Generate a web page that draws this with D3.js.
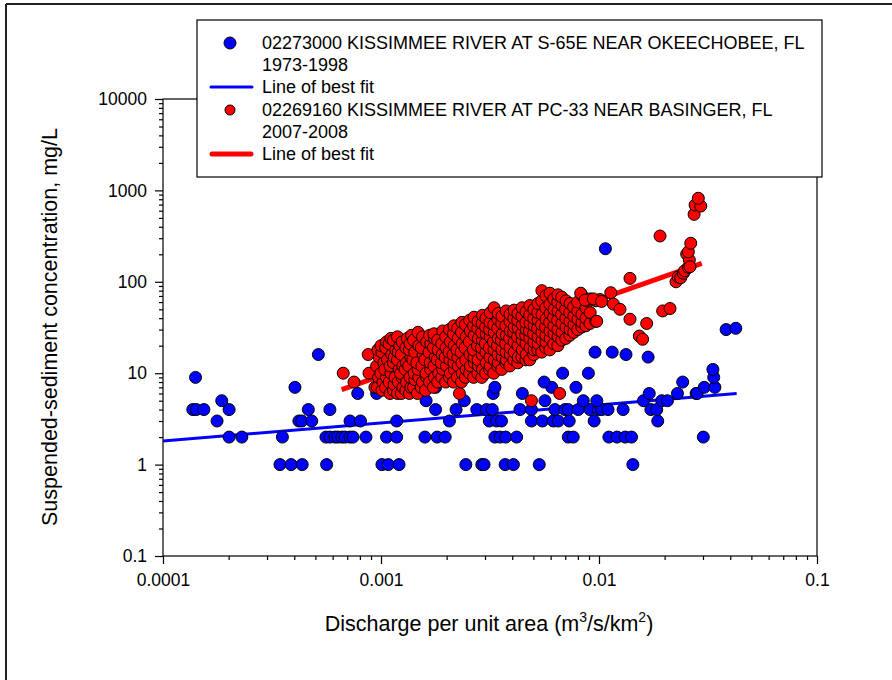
<!DOCTYPE html>
<html><head><meta charset="utf-8">
<script src="https://cdn.jsdelivr.net/npm/d3@7"></script>
<style>body{margin:0;background:#fff;} svg{display:block;font-family:"Liberation Sans",Arial,Helvetica,sans-serif;}</style>
</head><body><svg id="chart" width="892" height="680"></svg>
<script>
// ---------------- DATA ----------------
const xTickValues = [0.0001, 0.001, 0.01, 0.1];
const xTickLabels = ["0.0001", "0.001", "0.01", "0.1"];
const yTickValues = [0.1, 1, 10, 100, 1000, 10000];
const yTickLabels = ["0.1", "1", "10", "100", "1000", "10000"];

const xTitle = ["Discharge per unit area (m", "3", "/s/km", "2", ")"];
const yTitle = "Suspended-sediment concentration, mg/L";

const legendLabels = [
  "02273000 KISSIMMEE RIVER AT S-65E NEAR OKEECHOBEE, FL",
  "1973-1998",
  "Line of best fit",
  "02269160 KISSIMMEE RIVER AT PC-33 NEAR BASINGER, FL",
  "2007-2008",
  "Line of best fit"
];

// line of best fit end points [discharge, concentration]
const blueFit = [[0.0001, 1.81], [0.0428, 6.0]];
const redFit = [[0.00066, 6.6], [0.0296, 159]];

// 02273000 S-65E, 1973-1998  [discharge, concentration]
const blueData = [
  [0.000344,1],[0.000387,1],[0.000435,1],[0.000563,1],[0.00101,1],[0.00108,1],[0.00121,1],[0.00245,1],[0.00290,1],[0.00297,1],[0.00371,1],[0.00405,1],[0.00532,1],[0.0143,1],
  [0.000201,2],[0.000230,2],[0.000353,2],[0.000559,2],[0.000583,2],[0.000615,2],[0.000635,2],[0.000662,2],[0.000684,2],[0.000721,2],[0.000744,2],[0.000853,2],[0.00106,2],[0.00118,2],[0.00159,2],[0.00181,2],[0.00197,2],[0.00333,2],[0.00352,2],[0.00373,2],[0.00419,2],[0.00723,2],[0.00762,2],[0.0111,2],[0.0121,2],[0.0132,2],[0.0141,2],[0.0301,2],
  [0.000177,3],[0.000420,3],[0.000433,3],[0.000481,3],[0.000721,3],[0.000805,3],[0.00118,3],[0.00206,3],[0.00314,3],[0.00339,3],[0.00357,3],[0.00490,3],[0.00550,3],[0.00617,3],[0.00650,3],[0.00730,3],[0.00950,3],[0.0186,3],
  [0.000137,4],[0.000142,4],[0.000154,4],[0.000201,4],[0.000464,4],[0.000583,4],[0.00178,4],[0.00221,4],[0.00275,4],[0.00305,4],[0.00324,4],[0.00434,4],[0.00490,4],[0.00628,4],[0.00698,4],[0.00723,4],[0.00803,4],[0.00910,4],[0.00993,4],[0.0103,4],[0.0110,4],[0.0129,4],[0.0173,4],[0.0184,4],
  [0.000186,5],[0.00161,5],[0.00241,5],[0.00565,5],[0.00847,5],[0.00977,5],[0.0160,5],[0.0194,5],[0.0206,5],
  [0.000782,6],[0.000955,6],[0.00327,6],[0.00445,6],[0.0170,6],[0.0229,6],[0.0279,6],[0.0282,6],
  [0.000403,7],[0.00178,7],[0.00333,7],[0.00607,7],[0.00784,7],[0.0304,7],[0.0340,7],
  [0.00560,8],[0.0242,8],
  [0.000141,9],[0.0336,9],
  [0.00681,10],[0.00894,10],
  [0.0333,11],
  [0.0168,15],[0.000516,16],[0.0133,16],[0.00959,17],[0.0115,17],[0.00530,23],
  [0.0383,30],[0.0424,31],[0.0107,230]
];

// 02269160 PC-33, 2007-2008  [discharge, concentration]
const redData = [
  [0.000671,10],[0.000752,8],[0.000874,16],[0.000881,10],[0.000938,7],[0.00097,18],[0.00106,20],
  [0.000962,7],[0.000975,9],[0.000955,12],[0.000981,15],[0.000968,18],
  [0.00101,6.5],[0.00102,8],[0.000998,10],[0.00103,13],[0.00101,17],[0.00100,20],
  [0.00105,7],[0.00106,9],[0.00104,11],[0.00107,14],[0.00105,19],[0.00106,22],
  [0.00110,6],[0.00109,8],[0.00111,10],[0.00110,12],[0.00112,16],[0.00109,21],[0.00111,24],
  [0.00114,6.5],[0.00115,7.5],[0.00116,9],[0.00114,13],[0.00115,15],[0.00117,18],[0.00114,23],
  [0.00119,6],[0.00120,8],[0.00121,11],[0.00119,14],[0.00120,17],[0.00122,20],[0.00119,25],
  [0.00124,6],[0.00126,7],[0.00125,9],[0.00123,10],[0.00126,12],[0.00124,16],[0.00125,22],
  [0.00130,6.5],[0.00131,8],[0.00129,11],[0.00131,13],[0.00130,19],[0.00132,24],
  [0.00135,6],[0.00137,7],[0.00136,9],[0.00134,12],[0.00137,15],[0.00135,18],[0.00136,21],[0.00138,26],
  [0.00141,7],[0.00143,8.5],[0.00142,10],[0.00140,14],[0.00143,17],[0.00141,23],
  [0.00147,6],[0.00149,9],[0.00148,11],[0.00146,13],[0.00149,20],[0.00148,28],
  [0.00153,7],[0.00155,8],[0.00154,12],[0.00156,16],[0.00153,19],[0.00155,25],
  [0.00160,6.5],[0.00162,9],[0.00161,10],[0.00159,14],[0.00162,22],
  [0.00167,8],[0.00169,11],[0.00168,13],[0.00166,17],[0.00169,21],[0.00167,26],
  [0.00174,7],[0.00176,9],[0.00175,12],[0.00177,15],[0.00174,19],[0.00176,24],[0.00175,27],
  [0.00182,8],[0.00184,10],[0.00181,14],[0.00183,18],[0.00182,23],
  [0.00190,9],[0.00192,11],[0.00189,13],[0.00191,16],[0.00190,21],[0.00192,29],
  [0.00198,8],[0.00200,12],[0.00197,15],[0.00199,19],[0.00198,25],
  [0.00206,9],[0.00208,10],[0.00207,14],[0.00205,17],[0.00208,22],[0.00206,30],
  [0.00215,8],[0.00217,11],[0.00216,13],[0.00214,16],[0.00217,20],[0.00215,27],[0.00216,33],
  [0.00224,9],[0.00226,12],[0.00225,15],[0.00223,18],[0.00226,24],[0.00225,31],
  [0.00229,6],
  [0.00234,8],[0.00236,10],[0.00235,13],[0.00233,17],[0.00236,21],[0.00234,28],[0.00235,36],
  [0.00244,9],[0.00246,11],[0.00245,14],[0.00243,19],[0.00246,25],[0.00244,34],
  [0.00255,10],[0.00257,12],[0.00256,16],[0.00254,22],[0.00257,29],[0.00255,38],
  [0.00266,9],[0.00268,13],[0.00267,15],[0.00265,18],[0.00268,26],[0.00266,33],[0.00267,41],
  [0.00278,10],[0.00280,12],[0.00279,14],[0.00277,20],[0.00280,24],[0.00278,31],[0.00279,37],
  [0.00290,9],[0.00292,11],[0.00291,16],[0.00289,19],[0.00292,23],[0.00290,28],[0.00291,35],[0.00292,43],
  [0.00302,10],[0.00304,13],[0.00303,17],[0.00301,21],[0.00304,27],[0.00302,32],[0.00303,40],
  [0.00315,11],[0.00317,12],[0.00316,15],[0.00314,19],[0.00317,25],[0.00315,30],[0.00316,36],[0.00317,46],
  [0.00329,10],[0.00331,14],[0.00330,18],[0.00328,22],[0.00331,28],[0.00329,34],[0.00330,52],
  [0.00343,12],[0.00345,13],[0.00344,16],[0.00342,20],[0.00345,24],[0.00343,31],[0.00344,39],[0.00345,45],
  [0.00358,11],[0.00360,15],[0.00359,18],[0.00357,23],[0.00360,27],[0.00358,35],[0.00359,42],
  [0.00374,13],[0.00376,14],[0.00375,17],[0.00373,21],[0.00376,26],[0.00374,33],[0.00375,48],
  [0.00390,12],[0.00392,16],[0.00391,19],[0.00389,24],[0.00392,29],[0.00390,37],[0.00391,44],
  [0.00407,14],[0.00409,17],[0.00408,22],[0.00406,28],[0.00409,32],[0.00407,40],[0.00408,49],
  [0.00424,13],[0.00426,15],[0.00425,20],[0.00423,25],[0.00426,31],[0.00424,38],[0.00425,45],
  [0.00443,15],[0.00445,18],[0.00444,23],[0.00442,27],[0.00445,34],[0.00443,42],[0.00444,52],
  [0.00462,14],[0.00464,16],[0.00463,21],[0.00461,26],[0.00464,30],[0.00462,36],[0.00463,47],
  [0.00481,14],[0.00483,19],[0.00482,24],[0.00480,29],[0.00483,35],[0.00481,43],[0.00482,55],
  [0.00490,5],
  [0.00502,16],[0.00504,18],[0.00503,22],[0.00501,27],[0.00504,33],[0.00502,40],[0.00503,50],
  [0.00524,18],[0.00526,21],[0.00525,25],[0.00523,31],[0.00526,38],[0.00524,46],[0.00525,58],
  [0.00546,17],[0.00548,23],[0.00547,28],[0.00545,34],[0.00548,44],[0.00546,62],[0.00547,80],
  [0.00570,19],[0.00572,22],[0.00571,26],[0.00569,32],[0.00572,39],[0.00570,52],[0.00571,70],
  [0.00595,18],[0.00597,24],[0.00596,29],[0.00594,36],[0.00597,45],[0.00595,57],[0.00596,75],
  [0.00620,21],[0.00622,27],[0.00621,33],[0.00619,41],[0.00622,50],[0.00620,65],
  [0.00647,20],[0.00649,25],[0.00648,30],[0.00646,38],[0.00649,48],[0.00647,60],[0.00648,72],
  [0.00660,6],
  [0.00675,23],[0.00677,28],[0.00676,35],[0.00674,44],[0.00677,55],[0.00675,68],
  [0.00704,24],[0.00706,32],[0.00705,40],[0.00703,50],[0.00706,62],
  [0.00735,26],[0.00737,30],[0.00736,37],[0.00734,46],[0.00737,58],
  [0.00766,28],[0.00768,34],[0.00767,42],[0.00765,53],
  [0.00799,30],[0.00801,39],[0.00800,48],[0.00798,60],
  [0.00834,32],[0.00836,36],[0.00835,44],[0.00833,72],
  [0.00870,33],[0.00872,40],[0.00871,52],[0.00869,63],
  [0.00909,35],[0.00911,46],[0.00910,65],
  [0.00967,37],[0.00969,62],[0.0101,64],
  [0.00824,75],[0.00863,63],[0.00942,65],[0.00976,37],[0.01028,61],[0.01132,76],[0.01164,57],[0.01248,50],
  [0.01387,39],[0.01387,109],[0.01531,25.5],[0.01585,23.5],[0.01654,35],[0.01905,317],[0.01959,48],[0.02117,51],
  [0.02256,100],[0.0231,113],[0.02371,111],[0.02437,124],[0.0247,132],[0.02525,201],[0.0257,144],[0.02597,173],
  [0.02614,146],[0.0257,213],[0.02635,264],[0.0273,547],[0.0276,692],[0.0293,674],[0.02855,820]
];

// ---------------- CHART ----------------
const svg = d3.select("#chart");
const W = 892, H = 680;
const plot = {left: 163, right: 817, top: 99, bottom: 556};
const font = '"Liberation Sans", Arial, Helvetica, sans-serif';

const x = d3.scaleLog().domain([0.0001, 0.1]).range([plot.left, plot.right]);
const y = d3.scaleLog().domain([0.1, 10000]).range([plot.bottom, plot.top]);

// outer frame
svg.append("line").attr("x1", 6).attr("y1", 4).attr("x2", W).attr("y2", 4).attr("stroke", "#222").attr("stroke-width", 2);
svg.append("line").attr("x1", 6).attr("y1", 4).attr("x2", 6).attr("y2", H).attr("stroke", "#222").attr("stroke-width", 2);

// plot rectangle
svg.append("rect").attr("x", plot.left).attr("y", plot.top)
  .attr("width", plot.right - plot.left).attr("height", plot.bottom - plot.top)
  .attr("fill", "none").attr("stroke", "#000").attr("stroke-width", 1.2);

// minor tick values
const minorX = [], minorY = [];
[0.0001, 0.001, 0.01].forEach(d => { for (let m = 2; m <= 9; m++) minorX.push(+(d * m).toPrecision(3)); });
[0.1, 1, 10, 100, 1000].forEach(d => { for (let m = 2; m <= 9; m++) minorY.push(+(d * m).toPrecision(3)); });

function styleAxis(g, size) {
  g.select(".domain").remove();
  g.selectAll("line").attr("stroke", "#000").attr("stroke-width", 1.2);
  g.selectAll("text").attr("font-family", font).attr("font-size", size).attr("fill", "#000");
}

// x axis
svg.append("g").attr("transform", `translate(0,${plot.bottom})`)
  .call(d3.axisBottom(x).tickValues(minorX).tickSize(4).tickFormat(""))
  .call(g => styleAxis(g, 17.5));
svg.append("g").attr("transform", `translate(0,${plot.bottom})`)
  .call(d3.axisBottom(x).tickValues(xTickValues).tickSize(8).tickPadding(10)
    .tickFormat((d, i) => xTickLabels[i]))
  .call(g => styleAxis(g, 17.5));

// y axis
svg.append("g").attr("transform", `translate(${plot.left},0)`)
  .call(d3.axisLeft(y).tickValues(minorY).tickSize(4).tickFormat(""))
  .call(g => styleAxis(g, 17.5));
svg.append("g").attr("transform", `translate(${plot.left},0)`)
  .call(d3.axisLeft(y).tickValues(yTickValues).tickSize(8).tickPadding(8)
    .tickFormat((d, i) => yTickLabels[i]))
  .call(g => styleAxis(g, 17.5));

// axis titles
const xt = svg.append("text").attr("x", 489).attr("y", 631).attr("text-anchor", "middle")
  .attr("font-family", font).attr("font-size", 21.5).attr("fill", "#000");
xt.append("tspan").text(xTitle[0]);
xt.append("tspan").attr("dy", -9).attr("font-size", 14).text(xTitle[1]);
xt.append("tspan").attr("dy", 9).text(xTitle[2]);
xt.append("tspan").attr("dy", -9).attr("font-size", 14).text(xTitle[3]);
xt.append("tspan").attr("dy", 9).text(xTitle[4]);

svg.append("text").attr("transform", "translate(50,327) rotate(-90)")
  .attr("text-anchor", "middle").attr("dominant-baseline", "central")
  .attr("font-family", font).attr("font-size", 21.5).attr("fill", "#000").text(yTitle);

// lines of best fit
const line = d3.line().x(d => x(d[0])).y(d => y(d[1]));
svg.append("path").datum(blueFit).attr("d", line).attr("stroke", "#0000ff").attr("stroke-width", 3).attr("fill", "none");
svg.append("path").datum(redFit).attr("d", line).attr("stroke", "#ff0000").attr("stroke-width", 5).attr("fill", "none");

// points
svg.append("g").selectAll("circle").data(blueData).join("circle")
  .attr("cx", d => x(d[0])).attr("cy", d => y(d[1])).attr("r", 6)
  .attr("fill", "#0000ff").attr("stroke", "#000").attr("stroke-width", 1);
svg.append("g").selectAll("circle").data(redData).join("circle")
  .attr("cx", d => x(d[0])).attr("cy", d => y(d[1])).attr("r", 6)
  .attr("fill", "#ff0000").attr("stroke", "#000").attr("stroke-width", 1);

// legend
const lg = svg.append("g");
lg.append("rect").attr("x", 197).attr("y", 20).attr("width", 625).attr("height", 157)
  .attr("fill", "#fff").attr("stroke", "#000").attr("stroke-width", 1.2);
const rowY = [43, 65, 87, 110, 132, 154];
legendLabels.forEach((t, i) => {
  lg.append("text").attr("x", 262).attr("y", rowY[i]).attr("dominant-baseline", "central")
    .attr("font-family", font).attr("font-size", 18).attr("fill", "#000").text(t);
});
lg.append("circle").attr("cx", 230).attr("cy", rowY[0]).attr("r", 6).attr("fill", "#0000ff").attr("stroke", "#000").attr("stroke-width", 1);
lg.append("line").attr("x1", 211).attr("x2", 252).attr("y1", rowY[2]).attr("y2", rowY[2])
  .attr("stroke", "#0000ff").attr("stroke-width", 3).attr("stroke-linecap", "round");
lg.append("circle").attr("cx", 230).attr("cy", rowY[3]).attr("r", 5).attr("fill", "#ff0000").attr("stroke", "#000").attr("stroke-width", 1);
lg.append("line").attr("x1", 212).attr("x2", 251).attr("y1", rowY[5]).attr("y2", rowY[5])
  .attr("stroke", "#ff0000").attr("stroke-width", 5).attr("stroke-linecap", "round");
</script>
</body></html>
